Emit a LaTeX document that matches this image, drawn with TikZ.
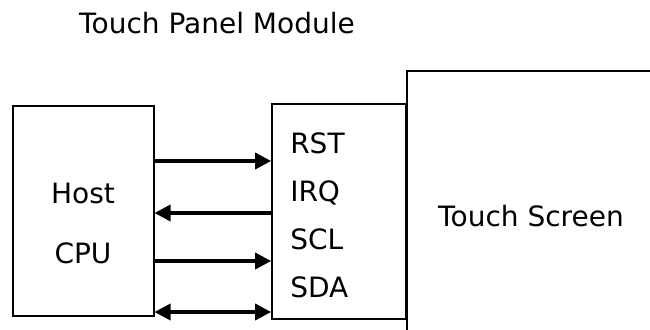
\documentclass[tikz,border=0pt]{standalone}
\usepackage{fontspec}
\setmainfont{DejaVu Sans}
\usetikzlibrary{arrows.meta,positioning}

\begin{document}
\begin{tikzpicture}[
  x=0.75pt, y=-0.75pt,
  font=\fontsize{21}{25}\selectfont,
  frame/.style={line width=1.5pt},
  box/.style={rectangle,draw,frame},
  txt/.style={inner sep=0pt,anchor=base},
  sig/.style={inner sep=0pt,anchor=base west},
  arr/.style={-{Triangle[length=12pt,width=12pt]},line width=2.6pt}
]
\useasboundingbox (0,0) rectangle (650,329);

\node[txt] (title) at (217,33) {Touch Panel Module};

\node[box,minimum width=105.75pt,minimum height=157.5pt] (host) at (83,211) {};
\node[box,minimum width=100.5pt,minimum height=161.25pt,right=87.5pt of host] (panel) {};

% touch screen, open to the right and the bottom
\coordinate (bot) at (0,330);
\draw[frame] (panel.east |- bot) |- (651,71);

\node[txt] (hosttxt) at (83,203) {Host};
\node[txt] (cputxt) at (83,263) {CPU};
\node[txt] (screen) at (531,226) {Touch Screen};

\node[sig] (rst) at (290,153) {RST};
\node[sig] (irq) at (290,201) {IRQ};
\node[sig] (scl) at (290,249) {SCL};
\node[sig] (sda) at (290,297) {SDA};

\coordinate (r1) at (0,161);
\coordinate (r2) at (0,213);
\coordinate (r3) at (0,261);
\coordinate (r4) at (0,312);

\draw[arr] (host.east |- r1) -- (panel.west |- r1);
\draw[arr] (panel.west |- r2) -- (host.east |- r2);
\draw[arr] (host.east |- r3) -- (panel.west |- r3);
\draw[arr,{Triangle[length=12pt,width=12pt]}-{Triangle[length=12pt,width=12pt]}] (host.east |- r4) -- (panel.west |- r4);
\end{tikzpicture}
\end{document}
